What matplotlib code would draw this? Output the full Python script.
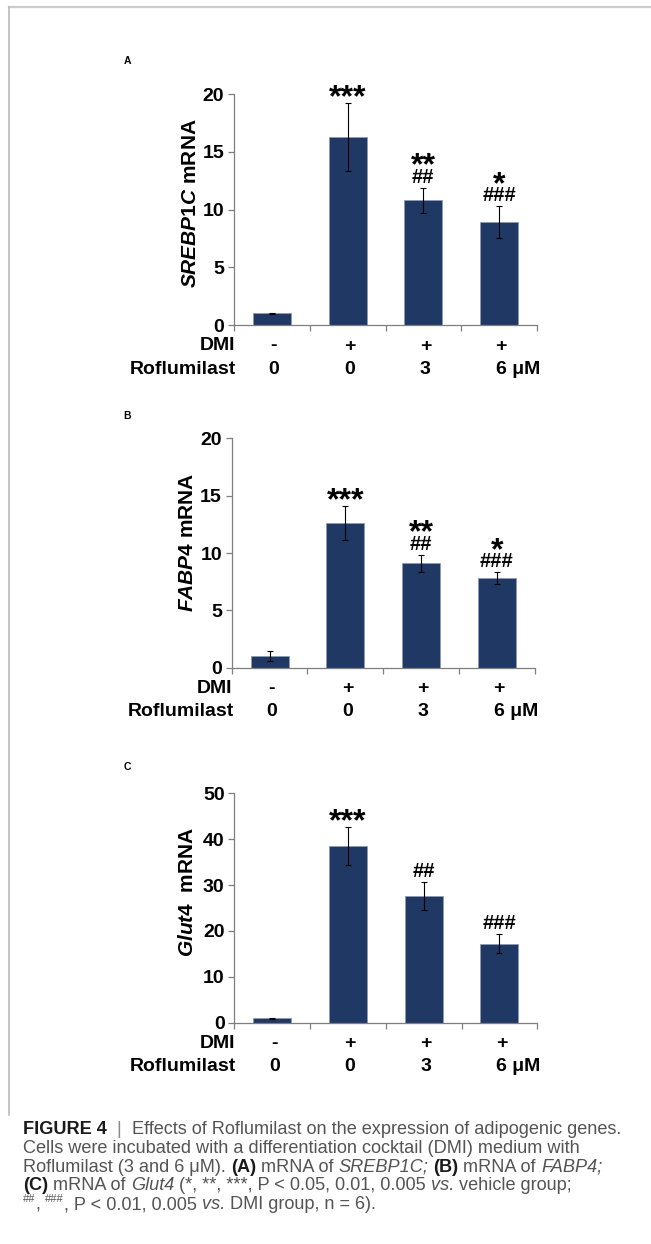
import numpy as np
import matplotlib
matplotlib.use("Agg")
import matplotlib.pyplot as plt

plt.rcParams['font.family'] = ['Liberation Sans', 'DejaVu Sans']
plt.rcParams['mathtext.fontset'] = 'custom'
plt.rcParams['mathtext.it'] = 'Liberation Sans:italic:bold'
plt.rcParams['mathtext.rm'] = 'Liberation Sans:bold'
plt.rcParams['mathtext.bf'] = 'Liberation Sans:bold'

# data
dmi = ['-', '+', '+', '+']
roflu = ['0', '0', '3', '6 μM']

srebp_mean = [1.0, 16.3, 10.8, 8.9]
srebp_err = [0.05, 2.95, 1.1, 1.4]
srebp_stars = ['', '***', '**', '*']
srebp_hash = ['', '', '##', '###']

fabp_mean = [1.0, 12.6, 9.1, 7.8]
fabp_err = [0.45, 1.5, 0.75, 0.5]
fabp_stars = ['', '***', '**', '*']
fabp_hash = ['', '', '##', '###']

glut_mean = [1.0, 38.5, 27.6, 17.2]
glut_err = [0.1, 4.1, 3.0, 2.1]
glut_stars = ['', '***', '', '']
glut_hash = ['', '', '##', '###']

bar_color = '#1f3864'
W, H = 651, 1244
fs = 14

fig = plt.figure(figsize=(W / 100, H / 100), dpi=100)

# overlay in pixel coords for frame, panel letters and caption
top = fig.add_axes([0, 0, 1, 1])
top.set_xlim(0, W)
top.set_ylim(H, 0)
top.axis('off')
top.plot([9, W], [7, 7], color='#cccccc', lw=1.6)
top.plot([9, 9], [7, 1115], color='#bbbbbb', lw=1.2)


def px_rect(left, y0, right, ytop):
    return [left / W, 1 - y0 / H, (right - left) / W, (y0 - ytop) / H]


def panel(rect, means, errs, ymax, ystep, ylabel, stars, hashes, lab_x, lab_y):
    ax = fig.add_axes(rect)
    x = np.arange(len(means)) + 0.5
    ax.bar(x, means, width=0.5, color=bar_color, edgecolor='#8e9ab0', linewidth=0.6, zorder=2)
    ax.errorbar(x, means, yerr=errs, fmt='none', ecolor='black', elinewidth=0.8,
                capsize=2.5, capthick=0.8, zorder=3)
    ax.set_xlim(0, len(means))
    ax.set_ylim(0, ymax)
    ax.set_yticks(np.arange(0, ymax + 1, ystep))
    ax.set_xticks(np.arange(len(means) + 1))
    ax.set_xticklabels([])
    for s in ['top', 'right']:
        ax.spines[s].set_visible(False)
    for s in ['left', 'bottom']:
        ax.spines[s].set_color('#7f7f7f')
        ax.spines[s].set_linewidth(0.9)
    ax.tick_params(axis='y', direction='out', length=4, width=0.9, color='#7f7f7f',
                   labelsize=fs, pad=3)
    ax.tick_params(axis='x', direction='out', length=4, width=0.9, color='#7f7f7f')
    for t in ax.get_yticklabels():
        t.set_fontweight('bold')
    ax.text(lab_x, lab_y, ylabel, transform=ax.transAxes, rotation=90, ha='center',
            va='center', fontsize=15, fontweight='bold')

    # significance marks
    for i in range(len(means)):
        ytop = means[i] + errs[i]
        if hashes[i]:
            ax.annotate(hashes[i], xy=(x[i], ytop), xytext=(0, 5), textcoords='offset pixels',
                        ha='center', va='baseline', fontsize=14.5, fontweight='bold')
            if stars[i]:
                ax.annotate(stars[i], xy=(x[i], ytop), xytext=(0, 13), textcoords='offset pixels',
                            ha='center', va='baseline', fontsize=23, fontweight='bold')
        elif stars[i]:
            ax.annotate(stars[i], xy=(x[i], ytop), xytext=(0, -3), textcoords='offset pixels',
                        ha='center', va='baseline', fontsize=23, fontweight='bold')

    # DMI / Roflumilast rows under the axis
    for i in range(len(means)):
        ax.annotate(dmi[i], xy=(x[i], 0), xycoords=('data', 'axes fraction'),
                    xytext=(2, -21), textcoords='offset pixels', ha='center', va='center',
                    fontsize=fs, fontweight='bold')
        if i == len(means) - 1:
            ax.annotate(roflu[i], xy=(x[i], 0), xycoords=('data', 'axes fraction'),
                        xytext=(-3, -44), textcoords='offset pixels', ha='left', va='center',
                        fontsize=fs, fontweight='bold')
        else:
            ax.annotate(roflu[i], xy=(x[i], 0), xycoords=('data', 'axes fraction'),
                        xytext=(2, -44), textcoords='offset pixels', ha='center', va='center',
                        fontsize=fs, fontweight='bold')
    ax.annotate('DMI', xy=(0, 0), xycoords='axes fraction', xytext=(1, -21),
                textcoords='offset pixels', ha='right', va='center', fontsize=fs, fontweight='bold')
    ax.annotate('Roflumilast', xy=(0, 0), xycoords='axes fraction', xytext=(2, -44),
                textcoords='offset pixels', ha='right', va='center', fontsize=fs, fontweight='bold')
    return ax


panel(px_rect(234, 325, 537, 94.3), srebp_mean, srebp_err, 20, 5,
      r'$\mathit{SREBP1C}$ mRNA', srebp_stars, srebp_hash, -0.143, 0.53)
panel(px_rect(231.7, 667.7, 534.7, 438.3), fabp_mean, fabp_err, 20, 5,
      r'$\mathit{FABP4}$ mRNA', fabp_stars, fabp_hash, -0.147, 0.545)
panel(px_rect(234.3, 1022.7, 537.3, 793.3), glut_mean, glut_err, 50, 10,
      r'$\mathit{Glut4}$  mRNA', glut_stars, glut_hash, -0.155, 0.57)

for letter, yy in [('A', 61), ('B', 416), ('C', 767)]:
    top.text(127, yy, letter, ha='center', va='center', fontsize=7.5, fontweight='bold')

# caption, built from styled pieces
cs = 13.1
gray = '#545454'
norm = dict(fontsize=cs, color=gray)
bold = dict(fontsize=cs, color='#1a1a1a', fontweight='bold')
ital = dict(fontsize=cs, color=gray, style='italic')
sup = dict(fontsize=8, color=gray)

caption = [
    [("FIGURE 4", bold), ("  |  ", dict(fontsize=cs, color='#8a8a8a')),
     ("Effects of Roflumilast on the expression of adipogenic genes.", norm)],
    [("Cells were incubated with a differentiation cocktail (DMI) medium with", norm)],
    [("Roflumilast (3 and 6 μM). ", norm), ("(A)", bold), (" mRNA of ", norm),
     ("SREBP1C;", ital), (" ", norm), ("(B)", bold), (" mRNA of ", norm), ("FABP4;", ital)],
    [("(C)", bold), (" mRNA of ", norm), ("Glut4", ital), (" (*, **, ***, P < 0.05, 0.01, 0.005 ", norm),
     ("vs.", ital), (" vehicle group;", norm)],
    [("##", sup), (", ", norm), ("###", sup), (", P < 0.01, 0.005 ", norm), ("vs.", ital),
     (" DMI group, n = 6).", norm)],
]

y = 1134
for line in caption:
    prev = None
    for txt, kw in line:
        rise = 5 if kw is sup else 0
        if prev is None:
            prev = top.annotate(txt, xy=(23, y), xytext=(0, rise),
                                textcoords='offset points', va='baseline', ha='left', **kw)
        else:
            # x continues after the previous piece, y stays on the line's baseline
            prev = top.annotate(txt, xy=(1, y), xycoords=(prev, 'data'), xytext=(0, rise),
                                textcoords='offset points', va='baseline', ha='left', **kw)
    y += 18.8

fig.savefig('out.png', dpi=100)
